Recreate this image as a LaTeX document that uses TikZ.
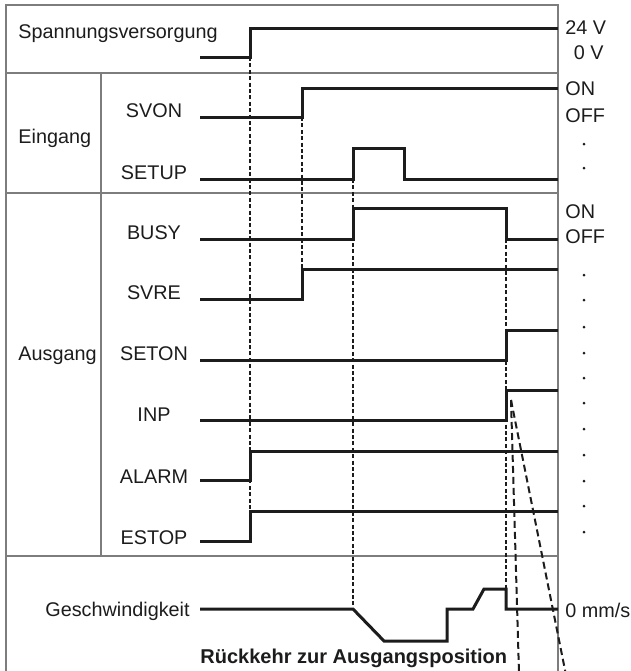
\documentclass[tikz,border=0pt]{standalone}
\usepackage{fontspec}
\setmainfont{Liberation Sans}
\usetikzlibrary{positioning}
\definecolor{framegray}{RGB}{125,125,125}
\definecolor{inkblack}{RGB}{28,28,28}

\begin{document}
\begin{tikzpicture}[
    x=0.5pt, y=-0.5pt,
    every node/.style={font=\fontsize{9.9}{11.8}\selectfont, text=inkblack, inner sep=0pt},
    frameline/.style={draw=framegray, line width=0.6pt},
    signal/.style={draw=inkblack, line width=1.5pt},
    guide/.style={draw=inkblack, line width=0.55pt, dash pattern=on 2pt off 1.2pt},
    trace/.style={draw=inkblack, line width=1pt, dash pattern=on 3.5pt off 2pt},
    grouplabel/.style={anchor=base west},
    siglabel/.style={anchor=base},
    levellabel/.style={anchor=base west},
    tickdot/.style={fill=inkblack}
]
\useasboundingbox (0,0) rectangle (631,671);

\draw [frameline] (6,690) -- (6,5) -- (558,5) -- (558,690);
\draw [frameline] (6,73) -- (558,73);
\draw [frameline] (6,193) -- (558,193);
\draw [frameline] (6,556) -- (558,556);
\draw [frameline] (101,73) -- (101,556);

\node [grouplabel] (power) at (18,38) {Spannungsversorgung};
\node [grouplabel] (inputs) at (18,143) {Eingang};
\node [grouplabel] (outputs) at (18,360) {Ausgang};

\node [siglabel] (svon)  at (154,117) {SVON};
\node [siglabel] (setup) at (154,179) {SETUP};
\node [siglabel] (busy)  at (154,239) {BUSY};
\node [siglabel] (svre)  at (154,299) {SVRE};
\node [siglabel] (seton) at (154,360) {SETON};
\node [siglabel] (inp)   at (154,421) {INP};
\node [siglabel] (alarm) at (154,483) {ALARM};
\node [siglabel] (estop) at (154,544) {ESTOP};
\node [anchor=base east] (speed) at (190,616) {Geschwindigkeit};
\node [anchor=base west, font=\fontsize{10}{12}\selectfont\bfseries] (homing) at (200,663) {Rückkehr zur Ausgangsposition};

\node [levellabel] (v24) at (565,34) {24 V};
\node [anchor=base east] (v0) at (604,59) {0 V};
\node [levellabel] (inon)  at (565,95) {ON};
\node [levellabel] (inoff) at (565,122) {OFF};
\node [levellabel] (outon)  at (565,218) {ON};
\node [levellabel] (outoff) at (565,243) {OFF};
\node [levellabel] (zerospeed) at (565,617) {0 mm/s};
\foreach \yy in {144,168,275,300,327,353,378,403,429,455,481,506,532}
    \fill [tickdot] (584,\yy) circle (0.75pt);

\draw [guide] (250,57) -- (250,541);
\draw [guide] (302,117) -- (302,299);
\draw [guide] (353,179) -- (353,609);
\draw [guide] (506,239) -- (506,589);

\coordinate (inpmark) at (511,400);
\draw [trace] (inpmark) -- (519.5,690);
\draw [trace] (inpmark) -- (569,690);

\draw [signal] (200,57) -- (250,57) |- (558,28);
\draw [signal] (200,117) -- (302,117) |- (558,88);
\draw [signal] (200,179) -- (353,179) |- (404,148) |- (558,179);
\draw [signal] (200,239) -- (353,239) |- (506,208) |- (558,239);
\draw [signal] (200,299) -- (302,299) |- (558,269);
\draw [signal] (200,360) -- (506,360) |- (558,330);
\draw [signal] (200,420) -- (506,420) |- (558,390);
\draw [signal] (200,480) -- (250,480) |- (558,451);
\draw [signal] (200,541) -- (250,541) |- (558,511);
\draw [signal] (200,609) -- (353,609) -- (384,641) -- (447,641) -- (447,609) -- (473,609)
    -- (484,589) -- (506,589) -- (506,609) -- (558,609);
\end{tikzpicture}
\end{document}
